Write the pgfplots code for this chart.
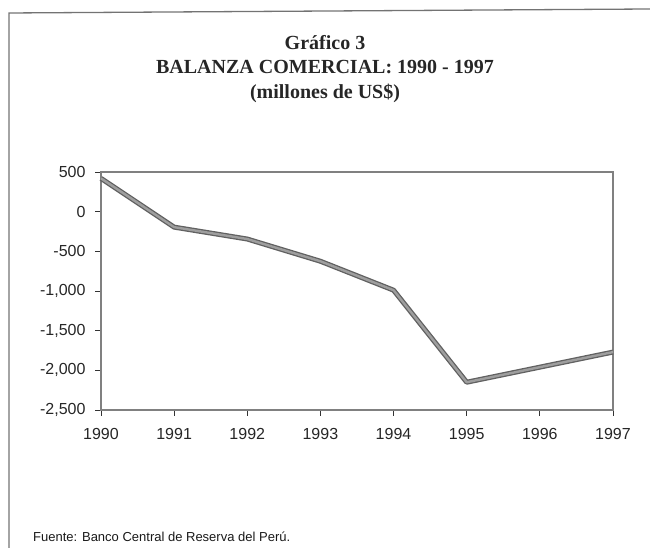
\documentclass[border=0pt]{standalone}
\usepackage{pgfplots}
\pgfplotsset{compat=1.18}
\usepackage{fontspec}
\setmainfont{Liberation Serif}
\newfontfamily\sans{Liberation Sans}
\begin{document}
\begin{tikzpicture}
\path[use as bounding box] (0pt,0pt) rectangle (650pt,548pt);
\draw[black!55, line width=1.3pt] (9pt,0pt) -- (9pt,535pt) -- (650pt,539pt);
\node[align=center, font=\fontsize{20}{24.5}\selectfont\bfseries, text=black!85] at (325pt,479pt)
  {Gráfico 3\\BALANZA COMERCIAL: 1990 - 1997\\(millones de US\$)};
\begin{axis}[
  at={(101pt,138pt)}, anchor=south west,
  scale only axis, width=512pt, height=238pt,
  xmin=1990, xmax=1997, ymin=-2500, ymax=500,
  xtick={1990,...,1997},
  xticklabels={1990,1991,1992,1993,1994,1995,1996,1997},
  ytick={-2500,-2000,-1500,-1000,-500,0,500},
  yticklabels={{-2,500},{-2,000},{-1,500},{-1,000},{-500},{0},{500}},
  axis line style={black!50, line width=1.5pt},
  tick style={black!80, line width=0.7pt},
  xtick pos=bottom, ytick pos=left,
  tick align=outside,
  major tick length=6pt,
  ticklabel style={font=\sans\fontsize{16}{18}\selectfont, text=black!85},
  xticklabel style={yshift=-9pt},
  yticklabel style={xshift=-6pt},
  clip=false,
]
\addplot[black!62, line width=5pt, line join=round] coordinates {
  (1990,420) (1991,-195) (1992,-345) (1993,-625) (1994,-990) (1995,-2150) (1996,-1960) (1997,-1770)};
\addplot[black!38, line width=2.4pt, line join=round] coordinates {
  (1990,420) (1991,-195) (1992,-345) (1993,-625) (1994,-990) (1995,-2150) (1996,-1960) (1997,-1770)};
\end{axis}
\node[anchor=base west, font=\sans\fontsize{13}{15}\selectfont, text=black!90, inner sep=0pt] at (33pt,6pt) {Fuente: Banco Central de Reserva del Perú.};
\end{tikzpicture}
\end{document}
